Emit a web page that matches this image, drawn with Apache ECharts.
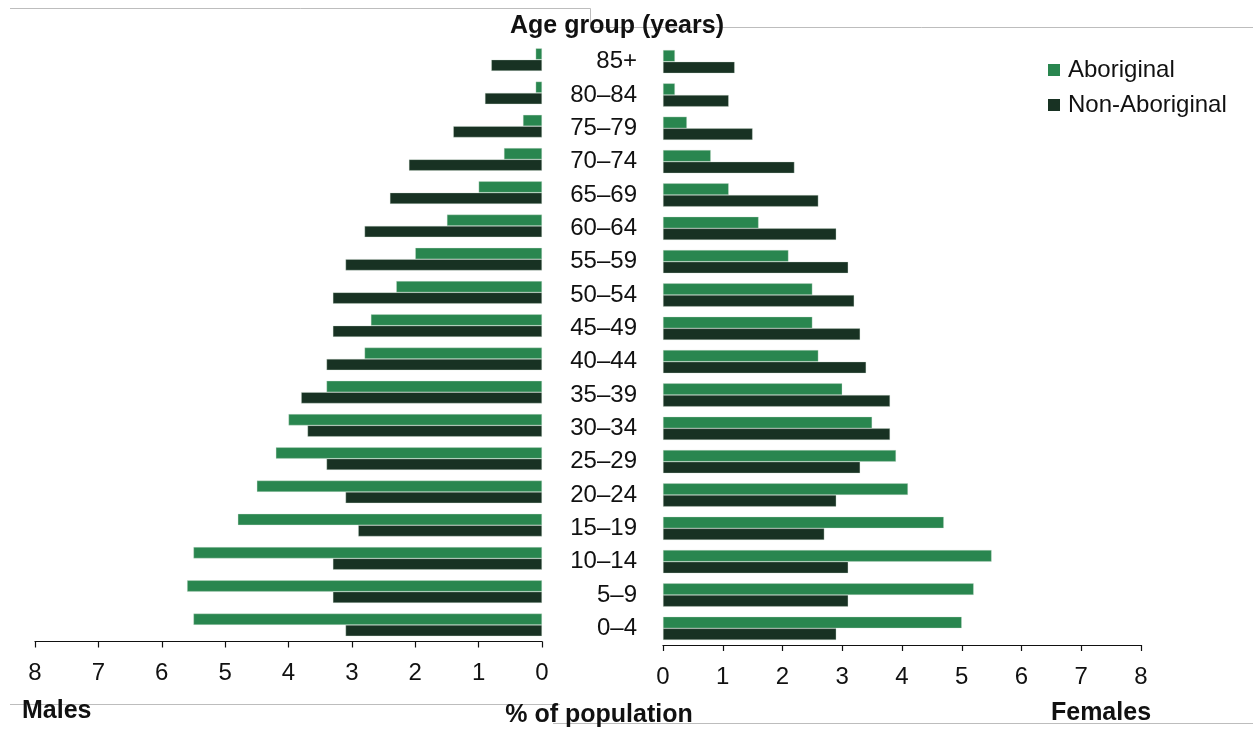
<!DOCTYPE html>
<html>
<head>
<meta charset="utf-8">
<script src="https://cdn.jsdelivr.net/npm/echarts@6/dist/echarts.min.js"></script>
<style>html,body{margin:0;padding:0;background:#fff}#c{width:1253px;height:729px}</style>
</head>
<body>
<div id="c"></div>
<script>
const categories = ['0–4','5–9','10–14','15–19','20–24','25–29','30–34','35–39','40–44','45–49','50–54','55–59','60–64','65–69','70–74','75–79','80–84','85+'];
const malesAboriginal = [5.5,5.6,5.5,4.8,4.5,4.2,4.0,3.4,2.8,2.7,2.3,2.0,1.5,1.0,0.6,0.3,0.1,0.1];
const malesNonAboriginal = [3.1,3.3,3.3,2.9,3.1,3.4,3.7,3.8,3.4,3.3,3.3,3.1,2.8,2.4,2.1,1.4,0.9,0.8];
const femalesAboriginal = [5.0,5.2,5.5,4.7,4.1,3.9,3.5,3.0,2.6,2.5,2.5,2.1,1.6,1.1,0.8,0.4,0.2,0.2];
const femalesNonAboriginal = [2.9,3.1,3.1,2.7,2.9,3.3,3.8,3.8,3.4,3.3,3.2,3.1,2.9,2.6,2.2,1.5,1.1,1.2];
const xTicks = [0,1,2,3,4,5,6,7,8];

const GREEN = '#29864f', DARK = '#183223';
const FONT = '"Liberation Sans", Arial, sans-serif';
const chart = echarts.init(document.getElementById('c'), null, {renderer:'canvas'});

function valueAxis(gridIndex, inverse){
  return {
    type:'value', gridIndex, inverse, min:xTicks[0], max:xTicks[xTicks.length-1], interval:1,
    axisLine:{show:true, lineStyle:{color:'#111', width:1.2}},
    axisTick:{show:true, length:6, lineStyle:{color:'#111', width:1.2}},
    axisLabel:{color:'#111', fontSize:24, fontFamily:FONT, margin:20},
    splitLine:{show:false}
  };
}
const barStyle = c => ({color:c, borderColor:'rgba(210,225,212,0.7)', borderWidth:0.5});

chart.setOption({
  backgroundColor:'#fff',
  animation:false,
  textStyle:{fontFamily:FONT},
  grid:[
    {left:35, top:43, width:507, height:598.5},
    {left:663, top:45, width:478, height:600}
  ],
  xAxis:[valueAxis(0,true), valueAxis(1,false)],
  yAxis:[
    {type:'category', gridIndex:0, data:categories,
     axisLine:{show:false}, axisTick:{show:false}, axisLabel:{show:false}},
    {type:'category', gridIndex:1, data:categories, position:'left',
     axisLine:{show:false}, axisTick:{show:false},
     axisLabel:{color:'#111', fontSize:24, fontFamily:FONT, align:'right', margin:26}}
  ],
  legend:{
    data:['Aboriginal','Non-Aboriginal'], orient:'vertical', left:1043, top:53,
    itemWidth:12, itemHeight:12, itemGap:11, icon:'rect',
    itemStyle:{borderWidth:0},
    textStyle:{color:'#111', fontSize:24, fontFamily:FONT, padding:[0,0,0,3]}
  },
  series:[
    {name:'Aboriginal', type:'bar', xAxisIndex:0, yAxisIndex:0, data:malesAboriginal, barGap:'0%', barCategoryGap:'32%', itemStyle:barStyle(GREEN)},
    {name:'Non-Aboriginal', type:'bar', xAxisIndex:0, yAxisIndex:0, data:malesNonAboriginal, barGap:'0%', barCategoryGap:'32%', itemStyle:barStyle(DARK)},
    {name:'Aboriginal', type:'bar', xAxisIndex:1, yAxisIndex:1, data:femalesAboriginal, barGap:'0%', barCategoryGap:'30%', itemStyle:barStyle(GREEN)},
    {name:'Non-Aboriginal', type:'bar', xAxisIndex:1, yAxisIndex:1, data:femalesNonAboriginal, barGap:'0%', barCategoryGap:'30%', itemStyle:barStyle(DARK)}
  ],
  graphic:[
    {type:'polyline', shape:{points:[[10,8.5],[590.5,8.5],[590.5,27.5],[1253,27.5]]}, style:{stroke:'#bdbdbd', lineWidth:1, fill:null}, z:-1},
    {type:'line', shape:{x1:10, y1:704.5, x2:560, y2:704.5}, style:{stroke:'#bdbdbd', lineWidth:1}, z:-1},
    {type:'line', shape:{x1:553, y1:723.5, x2:1253, y2:723.5}, style:{stroke:'#bdbdbd', lineWidth:1}, z:-1},
    {type:'text', x:617, y:26, style:{text:'Age group (years)', fill:'#111', font:'bold 25px '+FONT, textAlign:'center', textVerticalAlign:'middle'}, z:10},
    {type:'text', x:22, y:711, style:{text:'Males', fill:'#111', font:'bold 25px '+FONT, textAlign:'left', textVerticalAlign:'middle'}, z:10},
    {type:'text', x:599, y:715, style:{text:'% of population', fill:'#111', font:'bold 25px '+FONT, textAlign:'center', textVerticalAlign:'middle'}, z:10},
    {type:'text', x:1101, y:713, style:{text:'Females', fill:'#111', font:'bold 25px '+FONT, textAlign:'center', textVerticalAlign:'middle'}, z:10}
  ]
});
</script>
</body>
</html>
